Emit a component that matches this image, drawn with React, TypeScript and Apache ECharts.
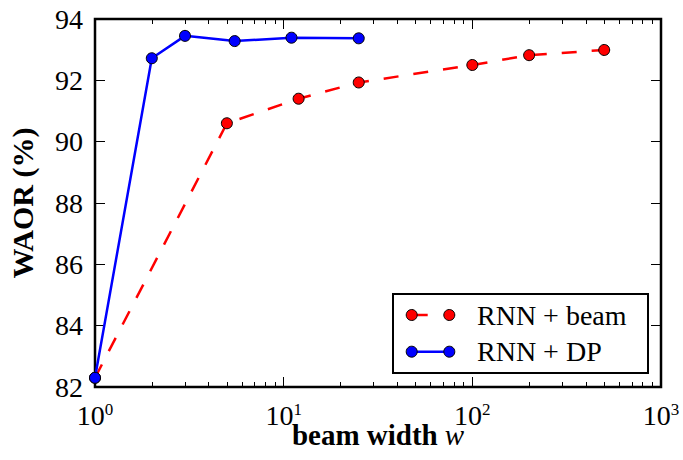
import React, { useEffect, useRef } from "react";
import * as echarts from "echarts";

const beamX = [1, 5, 12, 25, 100, 200, 500];
const beamY = [82.3, 90.6, 91.4, 91.93, 92.5, 92.82, 92.99];
const dpX = [1, 2, 3, 5.5, 11, 25];
const dpY = [82.3, 92.72, 93.45, 93.28, 93.39, 93.37];
const minorTicks = [2, 3, 4, 5, 6, 7, 8, 9, 20, 30, 40, 50, 60, 70, 80, 90, 200, 300, 400, 500, 600, 700, 800, 900];
const seriesNames = ["RNN + beam", "RNN + DP"];
const yTitle = "WAOR (%)";
const xTitle = "beam width";

const FONT = "Liberation Serif, DejaVu Serif, serif";

export default function App() {
  const ref = useRef<HTMLDivElement>(null);
  useEffect(() => {
    if (!ref.current) return;
    const chart = echarts.init(ref.current, null, { renderer: "svg" });
    const tickStyle = { color: "#000", width: 1 };
    const logBase = {
      type: "log" as const,
      logBase: 10,
      min: 1,
      max: 1000,
      interval: 1,
      splitLine: { show: false },
      axisLine: { show: false },
    };
    const majorX = (position: string, labels: boolean) => ({
      ...logBase,
      position,
      axisTick: { show: true, inside: true, length: 10, lineStyle: tickStyle },
      axisLabel: labels
        ? {
            show: true,
            margin: 14,
            showMinLabel: true,
            showMaxLabel: true,
            formatter: (v: number) => `{a|10}{s|${Math.round(Math.log10(v))}}`,
            rich: {
              a: { fontFamily: FONT, fontSize: 28, color: "#000", lineHeight: 28 },
              s: { fontFamily: FONT, fontSize: 17, color: "#000", lineHeight: 20, verticalAlign: "top" },
            },
          }
        : { show: false },
    });
    const minorX = (position: string) => ({
      ...logBase,
      position,
      axisTick: { show: true, inside: true, length: 5, lineStyle: tickStyle, customValues: minorTicks },
      axisLabel: { show: false },
    });
    const yBase = (position: string, labels: boolean) => ({
      type: "value" as const,
      position,
      min: 82,
      max: 94,
      interval: 2,
      splitLine: { show: false },
      axisLine: { show: false },
      axisTick: { show: true, inside: true, length: 10, lineStyle: tickStyle },
      axisLabel: labels
        ? { show: true, margin: 12, fontFamily: FONT, fontSize: 28, color: "#000", showMinLabel: true, showMaxLabel: true }
        : { show: false },
    });

    const lx1 = 411.7;
    const lx2 = 449.3;
    const r1 = 315;
    const r2 = 351.7;

    chart.setOption({
      animation: false,
      backgroundColor: "#fff",
      textStyle: { fontFamily: FONT },
      grid: {
        left: 95,
        right: 22,
        top: 19,
        bottom: 73,
        show: true,
        borderColor: "#000",
        borderWidth: 2.5,
        backgroundColor: "transparent",
        containLabel: false,
        outerBoundsMode: "none",
      },
      xAxis: [
        {
          ...majorX("bottom", true),
          name: `{b|${xTitle}}{i|w}`,
          nameLocation: "middle",
          nameGap: 34,
          nameMoveOverlap: false,
          nameTextStyle: {
            fontFamily: FONT,
            lineHeight: 28,
            rich: {
              b: { fontFamily: FONT, fontSize: 29, fontWeight: "bold", color: "#000", lineHeight: 28 },
              i: { fontFamily: FONT, fontSize: 29, fontStyle: "italic", color: "#000", lineHeight: 28, padding: [0, 0, 0, 7] },
            },
          },
        },
        minorX("bottom"),
        majorX("top", false),
        minorX("top"),
      ],
      yAxis: [
        {
          ...yBase("left", true),
          name: yTitle,
          nameLocation: "middle",
          nameGap: 58,
          nameMoveOverlap: false,
          nameTextStyle: { fontFamily: FONT, fontSize: 30, fontWeight: "bold", color: "#000" },
        },
        yBase("right", false),
      ],
      series: [
        {
          name: seriesNames[0],
          type: "line",
          xAxisIndex: 0,
          yAxisIndex: 0,
          data: beamX.map((x, i) => [x, beamY[i]]),
          symbol: "circle",
          symbolSize: 11,
          lineStyle: { color: "#ff0000", width: 2.5, type: [15, 15] },
          itemStyle: { color: "#ff0000", borderColor: "#000", borderWidth: 1 },
          z: 2,
        },
        {
          name: seriesNames[1],
          type: "line",
          xAxisIndex: 0,
          yAxisIndex: 0,
          data: dpX.map((x, i) => [x, dpY[i]]),
          symbol: "circle",
          symbolSize: 11,
          lineStyle: { color: "#0000ff", width: 2.5 },
          itemStyle: { color: "#0000ff", borderColor: "#000", borderWidth: 1 },
          z: 3,
        },
      ],
      graphic: [
        {
          type: "group",
          z: 100,
          children: [
            {
              type: "rect",
              shape: { x: 393, y: 294, width: 255, height: 79 },
              style: { fill: "#fff", stroke: "#000", lineWidth: 2 },
            },
            {
              type: "line",
              shape: { x1: lx1, y1: r1, x2: lx2, y2: r1 },
              style: { stroke: "#ff0000", lineWidth: 2.5, lineDash: [16, 40] },
            },
            { type: "circle", shape: { cx: lx1, cy: r1, r: 5.5 }, style: { fill: "#ff0000", stroke: "#000", lineWidth: 1 } },
            { type: "circle", shape: { cx: lx2, cy: r1, r: 5.5 }, style: { fill: "#ff0000", stroke: "#000", lineWidth: 1 } },
            {
              type: "text",
              x: 477,
              y: r1,
              style: { text: seriesNames[0], fontFamily: FONT, fontSize: 28, fill: "#000", verticalAlign: "middle" },
            },
            {
              type: "line",
              shape: { x1: lx1, y1: r2, x2: lx2, y2: r2 },
              style: { stroke: "#0000ff", lineWidth: 2.5 },
            },
            { type: "circle", shape: { cx: lx1, cy: r2, r: 5.5 }, style: { fill: "#0000ff", stroke: "#000", lineWidth: 1 } },
            { type: "circle", shape: { cx: lx2, cy: r2, r: 5.5 }, style: { fill: "#0000ff", stroke: "#000", lineWidth: 1 } },
            {
              type: "text",
              x: 477,
              y: r2,
              style: { text: seriesNames[1], fontFamily: FONT, fontSize: 28, fill: "#000", verticalAlign: "middle" },
            },
          ],
        },
      ],
    });
    return () => chart.dispose();
  }, []);
  return <div ref={ref} style={{ position: "absolute", left: 0, top: 0, width: 683, height: 460 }} />;
}
